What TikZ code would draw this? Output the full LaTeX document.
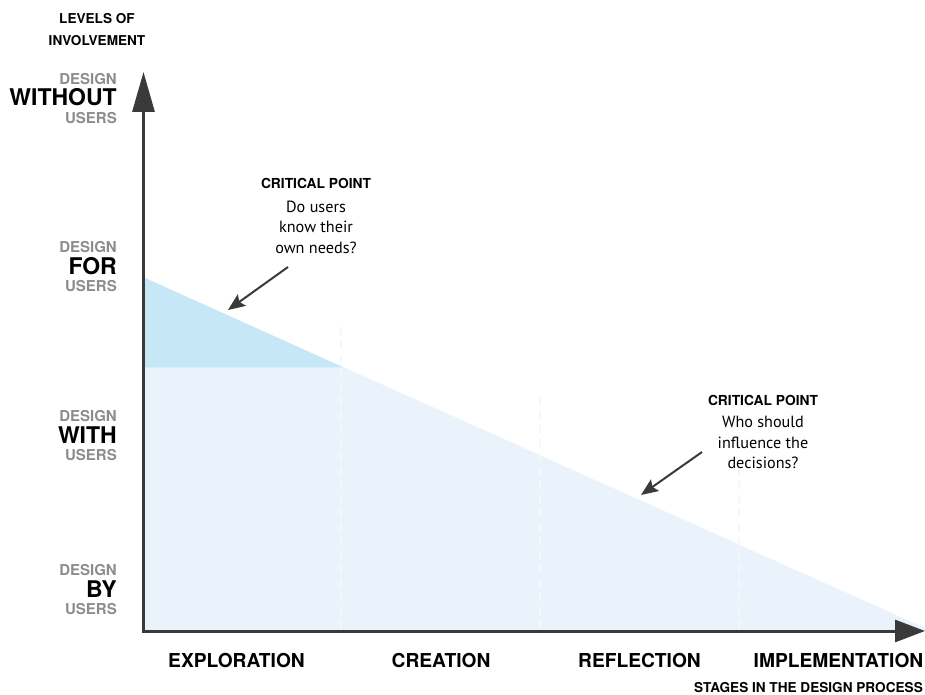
\documentclass[tikz,border=0pt]{standalone}
\usepackage{fontspec}
\setmainfont{TeX Gyre Heros}
\newfontfamily\qfont{PT Sans}
\usepackage{tikz}
\usetikzlibrary{arrows.meta,positioning}
\definecolor{axisc}{HTML}{3A3A3A}
\definecolor{lvlgray}{HTML}{8C8C8C}
\definecolor{paleblue}{HTML}{EAF2FB}
\definecolor{skyblue}{HTML}{C6E7F6}
\definecolor{dashc}{HTML}{F6F7F9}

\begin{document}
\begin{tikzpicture}[x=1pt, y=-1pt,
  axis/.style={line width=3pt, draw=axisc, line join=miter},
  lvlword/.style={font=\bfseries\fontsize{23}{23}\selectfont, inner sep=0pt, anchor=base east},
  lvlsmall/.style={font=\bfseries\fontsize{15}{15}\selectfont, text=lvlgray, inner sep=0pt},
  stagelbl/.style={font=\bfseries\fontsize{19.2}{19.2}\selectfont, inner sep=0pt, anchor=base},
  axislbl/.style={font=\bfseries\fontsize{13.6}{22}\selectfont, inner sep=0pt, align=center},
  critical/.style={font=\bfseries\fontsize{13.8}{13.8}\selectfont, inner sep=0pt, anchor=base},
  question/.style={font=\qfont\fontsize{16.2}{20.5}\selectfont, align=center, inner sep=0pt},
  pointer/.style={line width=2pt, draw=axisc, -{Stealth[length=17pt,width=14pt,inset=3pt]}},
  divider/.style={draw=dashc, line width=2pt, dash pattern=on 8pt off 6pt}]
\useasboundingbox (0,0) rectangle (925,695);
\coordinate (hi) at (145,278);
\coordinate (mid) at (343,367.4);
\coordinate (far) at (925,628);
\coordinate (o) at (143.5,631);
\coordinate (ytip) at (143.5,72);
\coordinate (xtip) at (925,631);
\fill[paleblue] (hi) -- (far) -- (925,630) -- (145,630) -- cycle;
\fill[skyblue] (hi) -- (mid) -- (145,367.4) -- cycle;
\foreach \x/\t in {341/322, 540/396, 739/470}
  \draw[divider] (\x,629) -- (\x,\t);
\draw[axis, {Triangle[length=40pt,width=22pt]}-{Triangle[length=30pt,width=22pt]}] (ytip) -- (o) -- (xtip);
\node[axislbl] (levels) at (97,30) {LEVELS OF\\INVOLVEMENT};
\node[axislbl, anchor=base east] (stages) at (923,692) {STAGES IN THE DESIGN PROCESS};
\foreach \w/\y/\n in {WITHOUT/106/without, FOR/274/for, WITH/443/with, BY/597/by} {
  \node[lvlword] (\n) at (117,\y) {\w};
  \node[lvlsmall, above left=4pt and 0pt of \n.north east] (\n-d) {DESIGN};
  \node[lvlsmall, below left=6pt and 0pt of \n.south east] (\n-u) {USERS};
}
\foreach \x/\s in {236.5/EXPLORATION, 441/CREATION, 639.5/REFLECTION, 838.5/IMPLEMENTATION}
  \node[stagelbl] (\s) at (\x,667) {\s};
\node[critical] (cp1) at (316,189) {CRITICAL POINT};
\node[question, below=11pt of cp1] (q1) {Do users\\know their\\own needs?};
\node[critical] (cp2) at (763,405) {CRITICAL POINT};
\node[question, below=11pt of cp2] (q2) {Who should\\influence the\\decisions?};
\coordinate (t1) at (288,267);
\coordinate (h1) at (228,310);
\coordinate (t2) at (702,452);
\coordinate (h2) at (641,495);
\draw[pointer] (t1) -- (h1);
\draw[pointer] (t2) -- (h2);
\end{tikzpicture}
\end{document}
